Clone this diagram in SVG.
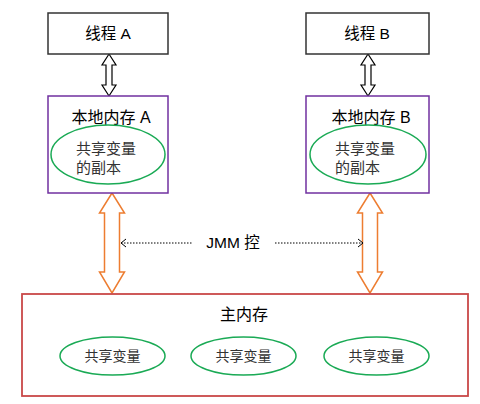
<svg xmlns="http://www.w3.org/2000/svg" width="480" height="404" viewBox="0 0 480 404">
<style>
.t{font-family:"Liberation Sans","Noto Sans CJK SC",sans-serif;font-size:15.5px;fill:#000;text-anchor:middle}
.tb{font-family:"Liberation Sans","Noto Sans CJK SC",sans-serif;font-size:16px;fill:#000;text-anchor:middle}
.s{font-family:"Liberation Sans","Noto Sans CJK SC",sans-serif;font-size:15px;fill:#333}
.m{font-family:"Liberation Sans","Noto Sans CJK SC",sans-serif;font-size:14px;fill:#333;text-anchor:middle}
.thread{fill:#fff;stroke:#333;stroke-width:1.5}
.local{fill:#fff;stroke:#7030a0;stroke-width:1.5}
.ell{fill:none;stroke:#1aaa55;stroke-width:1.5}
.barrow{fill:#fff;stroke:#000;stroke-width:1.2}
.oarrow{fill:#fff;stroke:#ed7d31;stroke-width:1.5}
.dot{fill:none;stroke:#000;stroke-width:1;stroke-dasharray:1.5 1.5}
.chev{fill:none;stroke:#000;stroke-width:1}
</style>
<rect width="480" height="404" fill="#fff"/>
<g id="connectors">
<path class="barrow" d="M109,54 L116,65 L112,65 L112,85 L116,85 L109,96 L102,85 L106,85 L106,65 L102,65 Z"/>
<path class="barrow" d="M368,54 L375,65 L371,65 L371,85 L375,85 L368,96 L361,85 L365,85 L365,65 L361,65 Z"/>
<path class="oarrow" d="M112,193 L124.5,213 L119.5,213 L119.5,272 L124.5,272 L112,293 L99.5,272 L104.5,272 L104.5,213 L99.5,213 Z"/>
<path class="oarrow" d="M370,193 L382.5,213 L377.5,213 L377.5,272 L382.5,272 L370,293 L357.5,272 L362.5,272 L362.5,213 L357.5,213 Z"/>
<line class="dot" x1="121" y1="243" x2="193" y2="243"/>
<polyline class="chev" points="126,239 121,243 126,247"/>
<line class="dot" x1="275" y1="243" x2="363" y2="243"/>
<polyline class="chev" points="358,239 363,243 358,247"/>
<text class="t" x="233" y="248">JMM 控</text>
</g>
<g id="threadA">
<rect class="thread" x="48" y="13" width="120" height="41"/>
<text class="t" x="108" y="39">线程 A</text>
</g>
<g id="threadB">
<rect class="thread" x="306" y="13" width="123" height="41"/>
<text class="t" x="367" y="39">线程 B</text>
</g>
<g id="localA">
<rect class="local" x="48" y="96" width="120" height="97"/>
<text class="tb" x="111" y="123">本地内存 A</text>
<ellipse class="ell" cx="108" cy="154.5" rx="57" ry="29.5"/>
<text class="s" x="76" y="154">共享变量</text>
<text class="s" x="76" y="173">的副本</text>
</g>
<g id="localB">
<rect class="local" x="306" y="96" width="123" height="97"/>
<text class="tb" x="371" y="123">本地内存 B</text>
<ellipse class="ell" cx="368" cy="154.5" rx="58" ry="29.5"/>
<text class="s" x="335" y="154">共享变量</text>
<text class="s" x="335" y="173">的副本</text>
</g>
<g id="mainMemory">
<rect x="22" y="294" width="446" height="102" fill="#fff" stroke="#c94848" stroke-width="1.8"/>
<text class="tb" x="244" y="320">主内存</text>
<ellipse class="ell" cx="112.5" cy="356" rx="52.5" ry="19"/>
<text class="m" x="112.5" y="361">共享变量</text>
<ellipse class="ell" cx="243.5" cy="356" rx="52.5" ry="19"/>
<text class="m" x="243.5" y="361">共享变量</text>
<ellipse class="ell" cx="376.5" cy="356" rx="52.5" ry="19"/>
<text class="m" x="376.5" y="361">共享变量</text>
</g>
</svg>
